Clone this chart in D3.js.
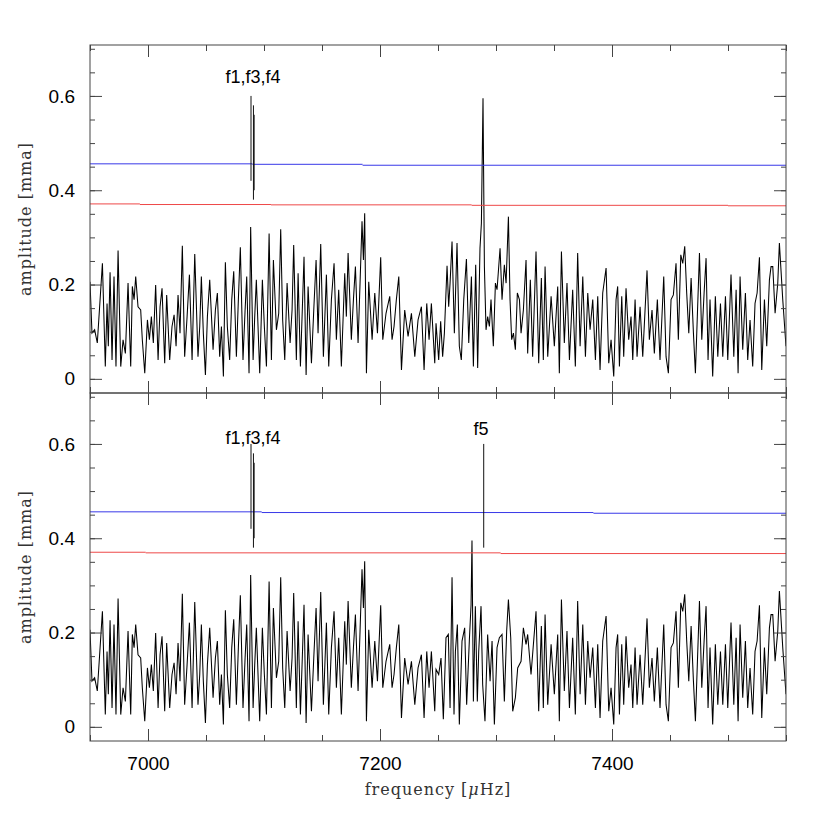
<!DOCTYPE html>
<html>
<head>
<meta charset="utf-8">
<script src="https://cdn.jsdelivr.net/npm/d3@7"></script>
<style>
  body { margin: 0; background: #fff; }
  .tick line { stroke: #444; }
  .lab text { font-family: "Liberation Sans", Arial, sans-serif; font-size: 19px; fill: #000; }
  .title { font-family: "DejaVu Serif", serif; font-size: 16px; fill: #333; letter-spacing: 1px; }
  .note { font-family: "Liberation Sans", Arial, sans-serif; font-size: 18px; fill: #000; }
</style>
</head>
<body>
<div id="chart"></div>
<script>
// amplitude spectrum before prewhitening f5 (top panel), frequency in microHz, amplitude in mma
const freqTop = [
  6950.0, 6951.7, 6954.0, 6956.3, 6960.7, 6963.2, 6964.7, 6965.8, 6967.3, 6969.0,
  6970.7, 6972.4, 6974.2, 6976.5, 6978.5, 6980.5, 6982.8, 6985.1, 6986.5, 6988.0,
  6989.4, 6991.4, 6993.7, 6995.1, 6997.2, 6999.5, 7001.2, 7002.9, 7004.6, 7006.6,
  7008.7, 7010.4, 7012.1, 7014.4, 7016.1, 7018.7, 7020.7, 7022.5, 7024.2, 7025.9,
  7027.6, 7029.6, 7031.6, 7033.7, 7035.7, 7038.0, 7040.3, 7043.1, 7044.6, 7046.0,
  7047.7, 7049.5, 7051.2, 7053.2, 7056.1, 7058.1, 7059.8, 7061.8, 7063.3, 7065.0,
  7066.7, 7068.4, 7070.4, 7072.2, 7073.9, 7076.2, 7077.9, 7079.6, 7081.9, 7083.7,
  7085.1, 7087.1, 7088.5, 7090.6, 7092.0, 7093.4, 7096.3, 7098.6, 7100.3, 7102.1,
  7104.4, 7106.4, 7108.1, 7110.7, 7112.7, 7114.4, 7116.1, 7117.9, 7119.9, 7122.5,
  7124.2, 7125.6, 7127.9, 7129.4, 7131.4, 7133.1, 7134.5, 7136.3, 7138.0, 7140.9,
  7142.9, 7144.9, 7146.6, 7148.9, 7151.2, 7153.8, 7155.8, 7158.1, 7160.4, 7162.4,
  7164.4, 7166.7, 7169.6, 7171.0, 7172.5, 7175.3, 7177.1, 7178.8, 7181.1, 7182.8,
  7184.5, 7185.7, 7186.8, 7188.3, 7190.3, 7193.2, 7195.5, 7197.8, 7200.6, 7202.4,
  7205.2, 7208.4, 7210.4, 7212.1, 7214.1, 7216.2, 7218.5, 7221.3, 7224.2, 7227.1,
  7230.0, 7232.8, 7235.7, 7238.0, 7240.3, 7242.3, 7244.3, 7247.2,
  7248.3, 7250.6, 7252.3, 7254.0, 7255.5, 7257.8, 7259.2, 7260.4, 7262.1, 7264.1,
  7266.4, 7268.4, 7270.1, 7272.2, 7274.5, 7276.5, 7278.8, 7280.5, 7282.5, 7284.2,
  7286.2, 7287.4, 7288.8, 7290.0, 7291.4, 7292.8, 7294.3, 7295.7, 7297.7, 7299.5,
  7300.9, 7303.5, 7305.2, 7307.2, 7308.7, 7310.7, 7312.1, 7313.5, 7315.0, 7316.7,
  7318.4, 7320.2, 7321.6, 7323.6, 7325.9, 7327.3, 7329.6, 7331.6, 7334.5, 7336.8,
  7339.1, 7340.8, 7342.3, 7344.6, 7347.5, 7350.3, 7353.2, 7354.6, 7356.4, 7358.9,
  7361.2, 7363.3, 7366.1, 7368.4, 7370.4, 7372.5, 7374.8, 7377.1, 7379.1, 7381.1,
  7383.4, 7385.7, 7387.7, 7389.7, 7392.0, 7394.9, 7397.2, 7399.2, 7401.5, 7403.5,
  7404.9, 7406.4, 7408.4, 7410.1, 7412.1, 7414.4, 7416.4, 7417.9, 7419.9, 7421.6,
  7424.2, 7426.5, 7430.2, 7432.2, 7434.5, 7436.5, 7439.1, 7441.4, 7444.6, 7446.6,
  7448.6, 7450.9, 7452.9, 7455.2, 7457.2, 7459.3, 7461.0, 7462.7, 7464.4, 7466.2,
  7468.2, 7470.2, 7471.9, 7475.4, 7477.4, 7479.4, 7481.1, 7482.8, 7484.5, 7486.8,
  7489.1, 7491.2, 7493.5, 7495.5, 7497.8, 7499.8, 7502.6, 7505.0, 7507.0, 7508.7,
  7510.4, 7512.7, 7515.0, 7517.0, 7519.0, 7521.3, 7523.3, 7525.1, 7527.1, 7529.1,
  7531.4, 7533.4, 7535.7, 7537.1, 7538.6, 7540.6, 7542.9, 7544.3, 7547.2, 7550.0
];
const ampTop = [
  0.206, 0.097, 0.104, 0.076, 0.245, 0.026, 0.160, 0.069, 0.226, 0.040,
  0.217, 0.026, 0.272, 0.026, 0.083, 0.054, 0.203, 0.026, 0.196, 0.168,
  0.217, 0.153, 0.146, 0.083, 0.012, 0.125, 0.083, 0.132, 0.076, 0.199,
  0.040, 0.153, 0.192, 0.033, 0.178, 0.040, 0.111, 0.136, 0.069, 0.178,
  0.097, 0.282, 0.047, 0.132, 0.221, 0.040, 0.265, 0.047, 0.111, 0.217,
  0.097, 0.008, 0.132, 0.210, 0.062, 0.146, 0.182, 0.047, 0.111, 0.005,
  0.247, 0.111, 0.040, 0.168, 0.228, 0.047, 0.168, 0.279, 0.040, 0.146,
  0.217, 0.012, 0.322, 0.040, 0.132, 0.210, 0.012, 0.210, 0.111, 0.026,
  0.308, 0.040, 0.252, 0.104, 0.139, 0.317, 0.125, 0.040, 0.203, 0.076,
  0.146, 0.284, 0.040, 0.224, 0.026, 0.153, 0.259, 0.008, 0.196, 0.033,
  0.146, 0.252, 0.097, 0.286, 0.047, 0.221, 0.026, 0.168, 0.245, 0.083,
  0.189, 0.026, 0.224, 0.132, 0.267, 0.083, 0.168, 0.238, 0.076, 0.203,
  0.334, 0.252, 0.351, 0.012, 0.206, 0.083, 0.182, 0.097, 0.258, 0.083,
  0.139, 0.175, 0.083, 0.111, 0.168, 0.217, 0.019, 0.146, 0.090, 0.139,
  0.047, 0.125, 0.153, 0.019, 0.160, 0.083, 0.160, 0.033,
  0.118, 0.040, 0.122, 0.047, 0.097, 0.240, 0.153, 0.203, 0.291, 0.097,
  0.288, 0.069, 0.040, 0.168, 0.254, 0.076, 0.217, 0.026, 0.242, 0.023,
  0.277, 0.330, 0.595, 0.238, 0.104, 0.132, 0.111, 0.168, 0.069, 0.203,
  0.189, 0.277, 0.168, 0.242, 0.203, 0.344, 0.168, 0.083, 0.097, 0.062,
  0.182, 0.168, 0.097, 0.146, 0.252, 0.054, 0.210, 0.047, 0.270, 0.033,
  0.214, 0.040, 0.238, 0.047, 0.175, 0.069, 0.196, 0.012, 0.270, 0.076,
  0.203, 0.040, 0.189, 0.026, 0.267, 0.069, 0.217, 0.047, 0.182, 0.104,
  0.168, 0.040, 0.175, 0.019, 0.182, 0.235, 0.033, 0.083, 0.005, 0.168,
  0.196, 0.026, 0.175, 0.047, 0.192, 0.083, 0.132, 0.040, 0.168, 0.047,
  0.153, 0.047, 0.230, 0.083, 0.146, 0.054, 0.168, 0.040, 0.217, 0.047,
  0.012, 0.168, 0.178, 0.245, 0.083, 0.263, 0.245, 0.281, 0.182, 0.097,
  0.214, 0.097, 0.012, 0.267, 0.083, 0.182, 0.256, 0.040, 0.168, 0.005,
  0.175, 0.047, 0.160, 0.047, 0.175, 0.040, 0.221, 0.047, 0.189, 0.012,
  0.217, 0.062, 0.182, 0.040, 0.125, 0.026, 0.160, 0.182, 0.258, 0.019,
  0.168, 0.069, 0.210, 0.238, 0.238, 0.139, 0.203, 0.288, 0.168, 0.069
];

// residual spectrum after prewhitening f5: only the window around f5 differs from the top panel
const freqResid = [
  7248.3, 7250.6, 7252.6, 7254.6, 7256.9, 7258.9, 7260.4, 7262.1, 7263.8, 7265.0,
  7266.7, 7268.4, 7270.7, 7273.0, 7274.7, 7277.0, 7278.5, 7279.3, 7280.5, 7282.2,
  7283.9, 7285.1, 7287.1, 7288.5, 7290.5, 7292.8, 7294.9, 7296.6, 7298.6, 7300.9,
  7302.9, 7305.2, 7307.2, 7309.2, 7310.7, 7312.7, 7314.4, 7316.7, 7318.7, 7321.6,
  7323.6, 7325.9, 7327.3, 7330.2, 7334.5
];
const ampResid = [
  0.122, 0.111, 0.146, 0.016, 0.189, 0.196, 0.040, 0.317, 0.026, 0.160,
  0.217, 0.005, 0.182, 0.210, 0.047, 0.182, 0.259, 0.395, 0.054, 0.256,
  0.054, 0.160, 0.256, 0.090, 0.012, 0.196, 0.097, 0.182, 0.005, 0.168,
  0.189, 0.196, 0.054, 0.203, 0.270, 0.189, 0.033, 0.062, 0.125, 0.139,
  0.210, 0.175, 0.196, 0.111, 0.245
];

// significance levels: [from, to, amplitude]
const blueTop = [[6950, 7090, 0.456], [7090, 7185, 0.455], [7185, 7550, 0.453]];
const redTop = [[6950, 6993, 0.371], [6993, 7106, 0.3697], [7106, 7279, 0.369], [7279, 7500, 0.368], [7500, 7550, 0.367]];
const blueBottom = [[6950, 7098, 0.456], [7098, 7384, 0.4545], [7384, 7550, 0.453]];
const redBottom = [[6950, 6998, 0.3703], [6998, 7304, 0.369], [7304, 7550, 0.3675]];

// frequency markers: [frequency, amplitude low, amplitude high]
const markersTop = [[7088.8, 0.42, 0.60], [7090.9, 0.38, 0.58], [7091.5, 0.40, 0.56]];
const markersBottom = [[7088.8, 0.42, 0.60], [7090.9, 0.38, 0.58], [7091.5, 0.40, 0.56], [7289.4, 0.38, 0.60]];
const labelsTop = [["f1,f3,f4", 7090.5, 0.628]];
const labelsBottom = [["f1,f3,f4", 7090.5, 0.600], ["f5", 7287.0, 0.619]];

const xMajor = [7000, 7200, 7400];
const xMinor = d3.range(6950, 7551, 50);
const yMajor = [0, 0.2, 0.4, 0.6];
const yMinor = d3.range(0, 0.701, 0.05);

const W = 830, H = 830;
const plotLeft = 90, plotRight = 786, plotTop = 45, panelH = 348;

const svg = d3.select("#chart").append("svg")
  .attr("width", W)
  .attr("height", H)
  .style("background", "#fff");

const x = d3.scaleLinear().domain([6950, 7550]).range([plotLeft, plotRight]);

const topSpec = freqTop.map((f, i) => [f, ampTop[i]]);
const bottomSpec = topSpec.filter(d => d[0] < 7248 || d[0] > 7335)
  .concat(freqResid.map((f, i) => [f, ampResid[i]]))
  .sort((a, b) => a[0] - b[0]);

function drawPanel(idx, spec, blue, red, markers, labels, showX) {
  const y0 = plotTop + idx * panelH;
  const y = d3.scaleLinear().domain([-0.03, 0.708]).range([y0 + panelH, y0]);
  const g = svg.append("g");

  g.append("clipPath").attr("id", "clip" + idx)
    .append("rect").attr("x", plotLeft).attr("y", y0).attr("width", plotRight - plotLeft).attr("height", panelH);

  const body = g.append("g").attr("clip-path", `url(#clip${idx})`);

  body.append("path")
    .datum(spec)
    .attr("fill", "none")
    .attr("stroke", "#000")
    .attr("stroke-width", 1.05)
    .attr("stroke-linejoin", "miter")
    .attr("d", d3.line().x(d => x(d[0])).y(d => y(d[1])));

  body.selectAll("line.blue").data(blue).join("line")
    .attr("x1", d => x(d[0])).attr("x2", d => x(d[1]))
    .attr("y1", d => y(d[2])).attr("y2", d => y(d[2]))
    .attr("stroke", "#3838e8").attr("stroke-width", 1);

  body.selectAll("line.red").data(red).join("line")
    .attr("x1", d => x(d[0])).attr("x2", d => x(d[1]))
    .attr("y1", d => y(d[2])).attr("y2", d => y(d[2]))
    .attr("stroke", "#ee4848").attr("stroke-width", 1);

  body.selectAll("line.mark").data(markers).join("line")
    .attr("x1", d => x(d[0])).attr("x2", d => x(d[0]))
    .attr("y1", d => y(d[1])).attr("y2", d => y(d[2]))
    .attr("stroke", "#111").attr("stroke-width", 1);

  g.selectAll("text.note").data(labels).join("text")
    .attr("class", "note")
    .attr("x", d => x(d[1])).attr("y", d => y(d[2]))
    .attr("text-anchor", "middle")
    .text(d => d[0]);

  // ticks on all four sides, pointing inwards
  const noLab = () => "";
  g.append("g").attr("transform", `translate(0,${y0})`)
    .call(d3.axisTop(x).tickValues(xMinor).tickSize(-6).tickFormat(noLab));
  g.append("g").attr("transform", `translate(0,${y0})`)
    .call(d3.axisTop(x).tickValues(xMajor).tickSize(-12).tickFormat(noLab));
  g.append("g").attr("transform", `translate(0,${y0 + panelH})`)
    .call(d3.axisBottom(x).tickValues(xMinor).tickSize(-6).tickFormat(noLab));
  g.append("g").attr("transform", `translate(0,${y0 + panelH})`)
    .call(d3.axisBottom(x).tickValues(xMajor).tickSize(-12).tickFormat(noLab));
  g.append("g").attr("transform", `translate(${plotLeft},0)`)
    .call(d3.axisLeft(y).tickValues(yMinor).tickSize(-5).tickFormat(noLab));
  g.append("g").attr("transform", `translate(${plotLeft},0)`)
    .call(d3.axisLeft(y).tickValues(yMajor).tickSize(-12).tickFormat(noLab));
  g.append("g").attr("transform", `translate(${plotRight},0)`)
    .call(d3.axisRight(y).tickValues(yMinor).tickSize(-5).tickFormat(noLab));
  g.append("g").attr("transform", `translate(${plotRight},0)`)
    .call(d3.axisRight(y).tickValues(yMajor).tickSize(-12).tickFormat(noLab));
  g.selectAll(".domain").remove();

  // y tick labels
  g.append("g").attr("class", "lab").attr("transform", `translate(${plotLeft},0)`)
    .call(d3.axisLeft(y).tickValues(yMajor).tickSize(0).tickPadding(15).tickFormat(d => d === 0 ? "0" : d3.format(".1f")(d)))
    .call(a => a.select(".domain").remove());

  if (showX) {
    g.append("g").attr("class", "lab").attr("transform", `translate(0,${y0 + panelH})`)
      .call(d3.axisBottom(x).tickValues(xMajor).tickSize(0).tickPadding(16).tickFormat(d3.format("d")))
      .call(a => a.select(".domain").remove());
  }

  g.append("rect")
    .attr("x", plotLeft).attr("y", y0).attr("width", plotRight - plotLeft).attr("height", panelH)
    .attr("fill", "none").attr("stroke", "#444").attr("stroke-width", 1);

  g.append("text")
    .attr("class", "title")
    .attr("transform", `translate(31,${y0 + panelH / 2}) rotate(-90)`)
    .attr("text-anchor", "middle")
    .text("amplitude [mma]");
}

drawPanel(0, topSpec, blueTop, redTop, markersTop, labelsTop, false);
drawPanel(1, bottomSpec, blueBottom, redBottom, markersBottom, labelsBottom, true);

const xt = svg.append("text")
  .attr("class", "title")
  .attr("x", (plotLeft + plotRight) / 2)
  .attr("y", 795)
  .attr("text-anchor", "middle");
xt.append("tspan").text("frequency [");
xt.append("tspan").attr("font-style", "italic").text("\u03bc");
xt.append("tspan").text("Hz]");
</script>
</body>
</html>
